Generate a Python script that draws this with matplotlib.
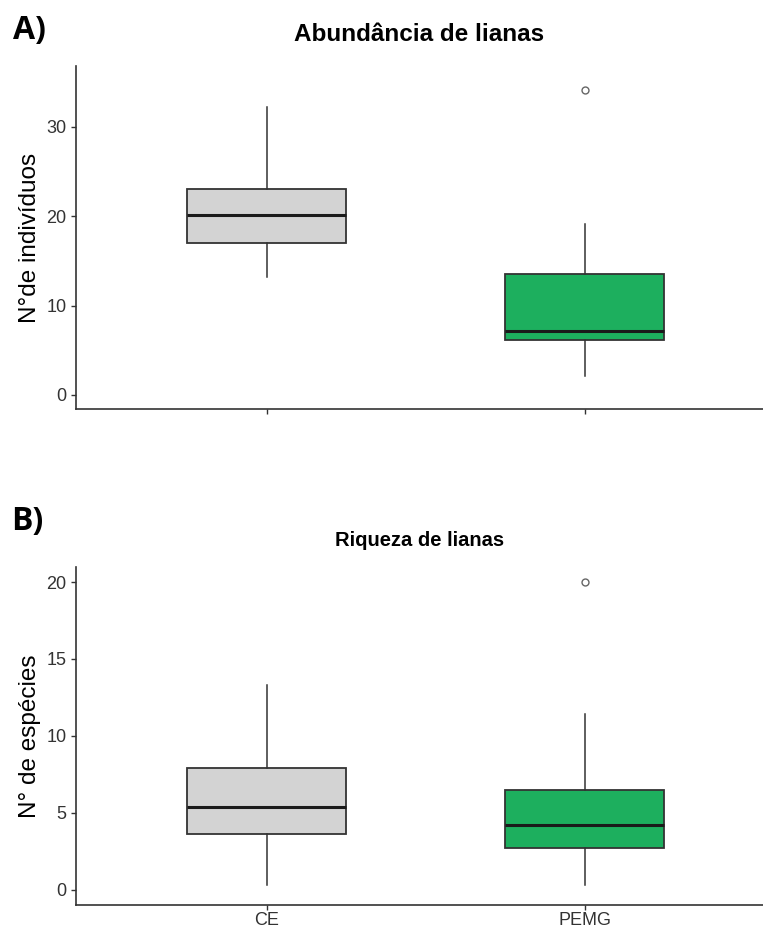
import matplotlib

matplotlib.use("Agg")

import matplotlib.pyplot as plt

plt.rcParams["font.family"] = ["Liberation Sans", "DejaVu Sans"]

# group labels and fills
groups = ["CE", "PEMG"]
fills = ["#d3d3d3", "#1daf5e"]

# A) abundance: whisker low, Q1, median, Q3, whisker high, outliers
abund_wlo = [13.2, 2.1]
abund_q1 = [17.0, 6.1]
abund_med = [20.1, 7.2]
abund_q3 = [23.0, 13.5]
abund_whi = [32.2, 19.1]
abund_out = [[], [34.1]]

# B) richness
rich_wlo = [0.3, 0.3]
rich_q1 = [3.6, 2.7]
rich_med = [5.35, 4.2]
rich_q3 = [7.9, 6.5]
rich_whi = [13.3, 11.4]
rich_out = [[], [20.0]]

EDGE = "#333333"


def stats(wlo, q1, med, q3, whi, out):
    return [
        dict(whislo=a, q1=b, med=c, q3=d, whishi=e, fliers=f)
        for a, b, c, d, e, f in zip(wlo, q1, med, q3, whi, out)
    ]


def draw(ax, st, ylim, yticks, ylabel, title, title_size, title_pad):
    bp = ax.bxp(
        st,
        positions=[1, 2],
        widths=0.5,
        patch_artist=True,
        showcaps=False,
        boxprops=dict(edgecolor=EDGE, linewidth=1.3),
        whiskerprops=dict(color=EDGE, linewidth=1.1),
        medianprops=dict(color="#1a1a1a", linewidth=2.2),
        flierprops=dict(marker="o", markersize=5, markerfacecolor="none",
                        markeredgecolor="#666666", markeredgewidth=1.0),
    )
    for patch, c in zip(bp["boxes"], fills):
        patch.set_facecolor(c)
    ax.set_xlim(0.4, 2.56)
    ax.set_ylim(*ylim)
    ax.set_yticks(yticks)
    for s in ("top", "right"):
        ax.spines[s].set_visible(False)
    for s in ("left", "bottom"):
        ax.spines[s].set_color(EDGE)
        ax.spines[s].set_linewidth(1.2)
    ax.tick_params(colors=EDGE, labelcolor="#333333", labelsize=13, length=3.5, width=1.0)
    ax.set_ylabel(ylabel, fontsize=17.5, labelpad=4)
    ax.set_title(title, fontsize=title_size, fontweight="bold", pad=title_pad)


fig = plt.figure(figsize=(7.63, 9.31), dpi=100)
ax1 = fig.add_axes([0.0996, 0.5607, 0.9004, 0.3684])
ax2 = fig.add_axes([0.0996, 0.0274, 0.9004, 0.3636])

draw(ax1, stats(abund_wlo, abund_q1, abund_med, abund_q3, abund_whi, abund_out),
     (-1.57, 36.8), [0, 10, 20, 30], "N°de indivíduos", "Abundância de lianas", 17.5, 18)
ax1.set_xticks([1, 2])
ax1.set_xticklabels(["", ""])

draw(ax2, stats(rich_wlo, rich_q1, rich_med, rich_q3, rich_whi, rich_out),
     (-1.04, 20.98), [0, 5, 10, 15, 20], "N° de espécies", "Riqueza de lianas", 14.5, 15)
ax2.set_xticks([1, 2])
ax2.set_xticklabels(groups)
ax2.tick_params(axis="x", labelsize=13, pad=1.5)

fig.text(0.017, 0.967, "A)", fontsize=23, fontweight="bold", family="Open Sans", va="center")
fig.text(0.015, 0.44, "B)", fontsize=23, fontweight="bold", family="Open Sans", va="center")

fig.savefig("out.png", dpi=100)
